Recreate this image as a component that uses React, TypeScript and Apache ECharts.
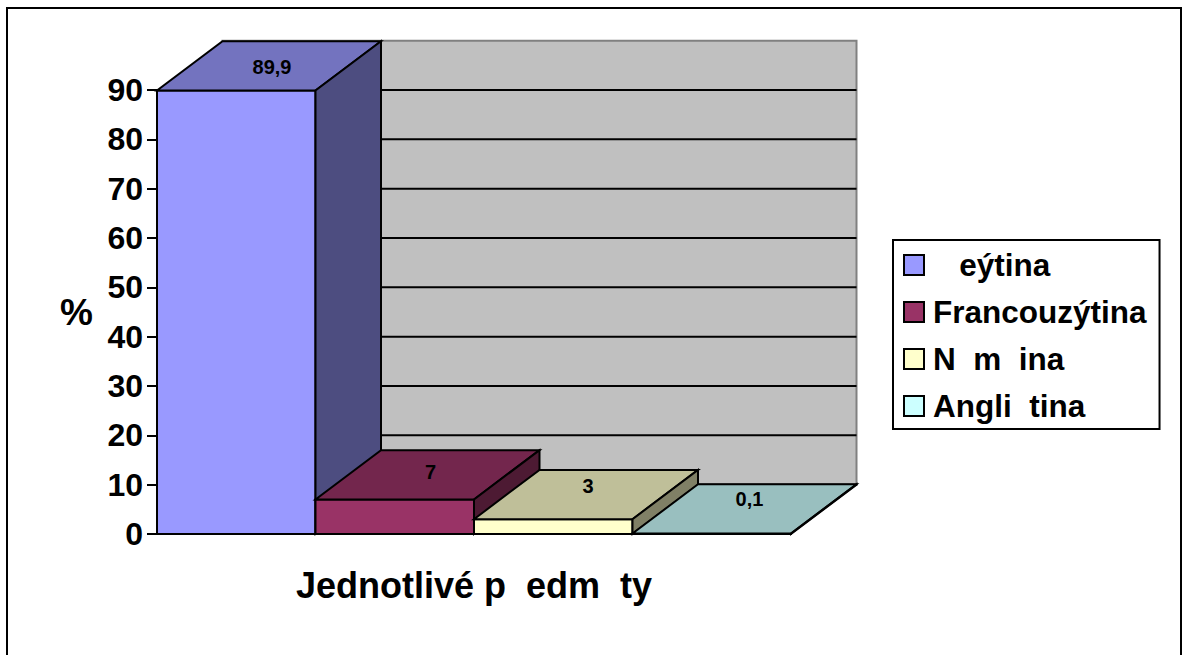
import React, { useEffect, useRef } from "react";
import * as echarts from "echarts";

const categories = ["\u00a0\u00a0\u00a0eýtina", "Francouzýtina", "N\u00a0\u00a0m\u00a0\u00a0ina", "Angli\u00a0\u00a0tina"];
const values = [89.9, 7, 3, 0.1];
const frontColors = ["#9999FF", "#993366", "#FFFFCC", "#CCFFFF"];
const topColors = ["#7373BF", "#73264D", "#BFBF99", "#99BFBF"];
const sideColors = ["#4D4D80", "#4D1A33", "#808066", "#668080"];
const gridTicks = [0, 10, 20, 30, 40, 50, 60, 70, 80];
const xTitle = "Jednotlivé p\u00a0\u00a0edm\u00a0\u00a0ty";
const yTitle = "%";

const FONT = "Liberation Sans";
const DX = 65.5;
const DY = 49.3;
const labelNudgeY = [1, -3, -9, -10];
const labelNudgeX = [3, 3, 2, 5];

const poly = (points: number[][], fill: string, stroke = "#000", lineWidth = 2) => ({
  type: "polygon",
  shape: { points },
  style: { fill, stroke, lineWidth, lineJoin: "miter" },
});

function barSeries(i: number) {
  return {
    type: "custom",
    name: categories[i],
    coordinateSystem: "cartesian2d",
    encode: { x: 0, y: 1 },
    data: [[i, values[i]]],
    itemStyle: { color: frontColors[i] },
    z: 5,
    renderItem: (_p: any, api: any) => {
      const idx = api.value(0);
      const val = api.value(1);
      const band = api.size([1, 0])[0];
      const [cx, yTop] = api.coord([idx, val]);
      const [, yBase] = api.coord([idx, 0]);
      const l = cx - band / 2;
      const r = cx + band / 2;
      return {
        type: "group",
        children: [
          poly([[l, yBase], [r, yBase], [r, yTop], [l, yTop]], frontColors[i]),
          poly([[l, yTop], [r, yTop], [r + DX, yTop - DY], [l + DX, yTop - DY]], topColors[i]),
          poly([[r, yBase], [r + DX, yBase - DY], [r + DX, yTop - DY], [r, yTop]], sideColors[i]),
          {
            type: "text",
            style: {
              text: String(val).replace(".", ","),
              x: cx + DX / 2 + labelNudgeX[i],
              y: yTop - DY / 2 + labelNudgeY[i],
              align: "center",
              verticalAlign: "middle",
              fill: "#000",
              font: `bold 20px "${FONT}"`,
            },
          },
        ],
      };
    },
  };
}

const wallSeries = {
  type: "custom",
  name: "wall",
  coordinateSystem: "cartesian2d",
  encode: { x: 0, y: 1 },
  data: [[0, 90]],
  z: 1,
  silent: true,
  renderItem: (_p: any, api: any) => {
    const band = api.size([1, 0])[0];
    const left = api.coord([0, 0])[0] - band / 2 + DX;
    const right = api.coord([categories.length - 1, 0])[0] + band / 2 + DX;
    const top = api.coord([0, api.value(1)])[1] - DY;
    const bottom = api.coord([0, 0])[1] - DY;
    return poly([[left, top], [right, top], [right, bottom], [left, bottom]], "#C0C0C0", "#808080", 2);
  },
};

const gridSeries = {
  type: "custom",
  name: "gridlines",
  coordinateSystem: "cartesian2d",
  encode: { x: 0, y: 1 },
  data: gridTicks.map((t) => [0, t]),
  z: 2,
  silent: true,
  renderItem: (_p: any, api: any) => {
    const band = api.size([1, 0])[0];
    const left = api.coord([0, 0])[0] - band / 2 + DX;
    const right = api.coord([categories.length - 1, 0])[0] + band / 2 + DX;
    const y = api.coord([0, api.value(1)])[1] - DY;
    return {
      type: "line",
      shape: { x1: left, y1: y, x2: right, y2: y },
      style: { stroke: "#000", lineWidth: 2 },
    };
  },
};

export default function App() {
  const ref = useRef<HTMLDivElement>(null);
  useEffect(() => {
    const chart = echarts.init(ref.current!, undefined, { renderer: "svg" });
    chart.setOption({
      animation: false,
      backgroundColor: "#fff",
      textStyle: { fontFamily: FONT },
      graphic: [
        {
          type: "rect",
          z: -1,
          silent: true,
          shape: { x: 7, y: 8, width: 1174, height: 670 },
          style: { fill: "none", stroke: "#000", lineWidth: 2 },
        },
      ],
      grid: { left: 157, right: 392, top: 90, bottom: 121 },
      xAxis: {
        type: "category",
        data: categories,
        boundaryGap: true,
        axisLine: { show: false },
        axisTick: { show: false },
        axisLabel: { show: false },
        name: xTitle,
        nameLocation: "middle",
        nameGap: 33,
        nameTextStyle: { fontFamily: FONT, fontWeight: "bold", fontSize: 36, color: "#000" },
      },
      yAxis: {
        type: "value",
        min: 0,
        max: 90,
        interval: 10,
        splitLine: { show: false },
        axisLine: { show: true, lineStyle: { color: "#000", width: 2 } },
        axisTick: { show: true, length: 10, lineStyle: { color: "#000", width: 2 } },
        axisLabel: { fontFamily: FONT, fontWeight: "bold", fontSize: 32, color: "#000", margin: 14 },
        name: yTitle,
        nameLocation: "middle",
        nameRotate: 0,
        nameGap: 64,
        nameTextStyle: { fontFamily: FONT, fontWeight: "bold", fontSize: 37, color: "#000" },
      },
      legend: {
        left: 893,
        top: 240,
        orient: "vertical",
        padding: [9, 13, 7, 10],
        borderColor: "#000",
        borderWidth: 2,
        backgroundColor: "#fff",
        itemWidth: 20,
        itemHeight: 20,
        itemGap: 15,
        icon: "rect",
        textStyle: { fontFamily: FONT, fontWeight: "bold", fontSize: 31.5, color: "#000", padding: [0, 0, 0, 4] },
        itemStyle: { borderColor: "#000", borderWidth: 2 },
        data: categories.map((name, i) => ({
          name,
          itemStyle: { color: frontColors[i], borderColor: "#000", borderWidth: 2 },
        })),
      },
      series: [wallSeries, gridSeries, ...values.map((_, i) => barSeries(i))],
    });
    return () => chart.dispose();
  }, []);
  return (
    <div
      ref={ref}
      style={{ position: "absolute", left: 0, top: 0, width: 1183, height: 655 }}
    />
  );
}
